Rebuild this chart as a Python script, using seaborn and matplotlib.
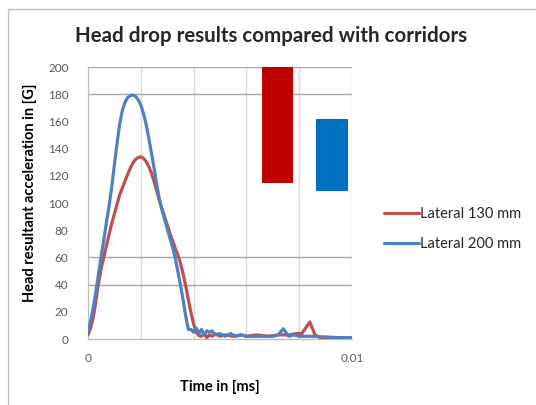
import matplotlib
matplotlib.use("Agg")
import matplotlib.pyplot as plt
import seaborn as sns
import pandas as pd
from matplotlib.lines import Line2D

# ---- data ----
t_130 = [0, 0.0001, 0.0002, 0.0003, 0.0004, 0.0005, 0.0006, 0.0007, 0.0008, 0.0009, 0.001,
         0.0011, 0.0012, 0.0013, 0.0014, 0.0015, 0.0016, 0.0017, 0.0018, 0.0019, 0.002,
         0.0021, 0.0022, 0.0023, 0.0024, 0.0025, 0.0026, 0.0027, 0.0028, 0.0029, 0.003,
         0.0031, 0.0032, 0.0033, 0.0034, 0.0035, 0.0036, 0.0037, 0.0038, 0.0039, 0.004,
         0.0041, 0.0042, 0.0043, 0.0044, 0.0045, 0.0046, 0.0047, 0.0048, 0.005, 0.0052,
         0.0055, 0.0058, 0.006, 0.0064, 0.0068, 0.0072, 0.0076, 0.0079, 0.0081, 0.0084,
         0.0086, 0.0088, 0.009, 0.0095, 0.01]
v_130 = [3, 8, 16, 28, 41, 52, 60, 69, 77, 85, 92,
         99, 106, 111, 116, 121, 125.5, 129.5, 132, 133.5, 134,
         133, 130.5, 127, 122, 116, 109, 102, 96, 90, 84,
         78, 72.5, 67, 62, 56, 48, 39, 29, 19.5, 11,
         5, 2.5, 2, 4, 1, 3, 2, 4, 2, 3,
         2, 3, 2, 3, 2, 3, 3, 4, 4, 12.5,
         3, 1, 1, 0.5, 0.5]

t_200 = [0, 0.0001, 0.0002, 0.0003, 0.0004, 0.0005, 0.0006, 0.0007, 0.0008, 0.0009, 0.001,
         0.0011, 0.0012, 0.0013, 0.0014, 0.0015, 0.0016, 0.0017, 0.0018, 0.0019, 0.002,
         0.0021, 0.0022, 0.0023, 0.0024, 0.0025, 0.0026, 0.0027, 0.0028, 0.0029, 0.003,
         0.0031, 0.0032, 0.0033, 0.0034, 0.0035, 0.0036, 0.0037, 0.0038,
         0.0039, 0.004, 0.0041, 0.0042, 0.0043, 0.0044, 0.0045, 0.0046, 0.0047, 0.0048, 0.005,
         0.0052, 0.0054, 0.0056, 0.0058, 0.006, 0.0063, 0.0066, 0.007, 0.0072, 0.0074, 0.0076,
         0.0078, 0.008, 0.0085, 0.009, 0.0095, 0.01]
v_200 = [5, 13, 23, 35, 48, 61, 73, 86, 98, 112, 128,
         144, 158, 168, 174, 177.5, 179, 179.5, 178.5, 176, 172,
         166, 158, 148, 137, 126, 114, 103, 95, 88, 81,
         74.5, 68, 60, 50, 40, 29, 17, 7,
         7, 5, 8, 4, 7, 3, 6, 5, 6, 3, 4,
         2, 4, 2, 3, 2, 2, 2, 2, 3, 7.5, 2,
         3, 2, 2, 1.5, 1, 1]

series_names = ["Lateral 130 mm", "Lateral 200 mm"]
line_colors = ["#C0504D", "#4F81BD"]

corridor_center = [0.00718, 0.00924]
corridor_width = [0.00118, 0.0012]
corridor_low = [115, 109]
corridor_high = [200, 162]
corridor_colors = ["#C00000", "#0070C0"]

hgrid_values = [40, 60, 180, 200]
y_ticks = list(range(0, 201, 20))
x_ticks = [0, 0.002, 0.004, 0.006, 0.008, 0.01]
x_tick_labels = ["0", "", "", "", "", "0.01"]

title = "Head drop results compared with corridors"
xlabel = "Time in [ms]"
ylabel = "Head resultant acceleration in [G]"

df = pd.concat([
    pd.DataFrame({"t": t_130, "v": v_130, "series": series_names[0]}),
    pd.DataFrame({"t": t_200, "v": v_200, "series": series_names[1]}),
], ignore_index=True)

# ---- plot ----
sns.set_style("white")
plt.rcParams["font.family"] = ["Lato", "DejaVu Sans"]

W, H = 536, 405
fig = plt.figure(figsize=(W / 100, H / 100), dpi=100)
ax = fig.add_axes([88 / W, 1 - 339 / H, (352 - 88) / W, (339 - 67) / H])

# grid
for xv in x_ticks[1:]:
    ax.axvline(xv, color="#d9d9d9", lw=1.0, zorder=0)
for yv in hgrid_values:
    ax.axhline(yv, color="#a6a6a6", lw=1.0, zorder=0.5)

# corridors
for c, w, lo, hi, col in zip(corridor_center, corridor_width, corridor_low, corridor_high, corridor_colors):
    ax.bar(c, hi - lo, width=w, bottom=lo, color=col, zorder=2, linewidth=0)

sns.lineplot(data=df, x="t", y="v", hue="series", palette=line_colors, lw=2.3,
             ax=ax, zorder=3, legend=False, sort=False)

ax.set_xlim(0, 0.01)
ax.set_ylim(0, 200)
ax.set_yticks(y_ticks)
ax.set_xticks(x_ticks)
ax.set_xticklabels(x_tick_labels)
ax.tick_params(axis="both", length=0, labelsize=8.5, colors="#595959")
ax.tick_params(axis="y", pad=14)
ax.tick_params(axis="x", pad=10)

for s in ["top", "right"]:
    ax.spines[s].set_visible(False)
for s in ["left", "bottom"]:
    ax.spines[s].set_color("#bfbfbf")
    ax.spines[s].set_linewidth(1.0)

ax.set_xlabel(xlabel, fontsize=10.5, fontweight="bold", color="#000000")
ax.set_ylabel(ylabel, fontsize=10.5, fontweight="bold", color="#000000")
ax.xaxis.set_label_coords((220 - 88) / 264, -(380 - 339) / 272)
ax.yaxis.set_label_coords((37 - 88) / 264, (339 - 193) / 272)

fig.text(0.5 * (73 + 470) / W, 1 - 36 / H, title, ha="center", va="center",
         fontsize=14.8, fontweight="bold")

handles = [Line2D([0], [0], color=c, lw=2.3) for c in line_colors]
fig.legend(handles, series_names, loc="upper left",
           bbox_to_anchor=(384 / W, 1 - 207 / H), frameon=False, fontsize=10.5,
           handlelength=2.4, handletextpad=0.1, borderpad=0, borderaxespad=0,
           labelspacing=1.1)

# outer chart frame (cropped on right and bottom)
fig.add_artist(Line2D([8 / W, 8 / W], [0, 1 - 9 / H], color="#bfbfbf", lw=1.0,
                      transform=fig.transFigure))
fig.add_artist(Line2D([8 / W, 1], [1 - 9 / H, 1 - 9 / H], color="#bfbfbf", lw=1.0,
                      transform=fig.transFigure))

fig.savefig("out.png", dpi=100)
